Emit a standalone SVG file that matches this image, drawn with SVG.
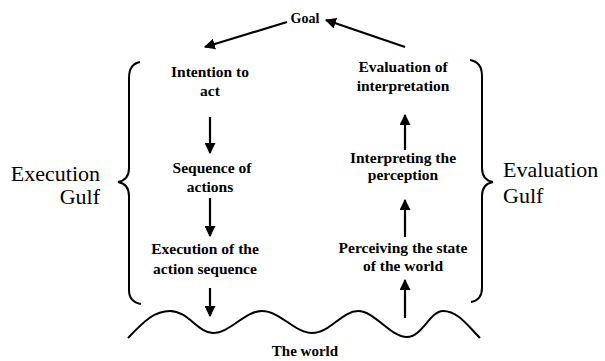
<svg xmlns="http://www.w3.org/2000/svg" width="605" height="361" viewBox="0 0 605 361">
<style>
.n{font-family:"Liberation Serif","DejaVu Serif",serif;font-weight:bold;font-size:15.5px;fill:#000;text-anchor:middle}
.g{font-family:"Liberation Serif","DejaVu Serif",serif;font-size:22px;fill:#000}
.c{stroke:#000;stroke-width:2.2;fill:none}
.b{stroke:#000;stroke-width:2;fill:none}
</style>
<defs>
<marker id="ah" viewBox="0 0 10 10" refX="9" refY="5" markerWidth="5" markerHeight="5" orient="auto" markerUnits="strokeWidth">
<path d="M0,0 L10,5 L0,10 z" fill="#000"/>
</marker>
</defs>
<rect width="605" height="361" fill="#fff"/>
<g id="goal"><text class="n" x="305" y="23" style="font-size:14px">Goal</text></g>
<g id="intention"><text class="n" x="210" y="77">Intention to</text><text class="n" x="210" y="96">act</text></g>
<g id="sequence"><text class="n" x="212" y="173">Sequence of</text><text class="n" x="210" y="192">actions</text></g>
<g id="execution"><text class="n" x="205" y="254">Execution of the</text><text class="n" x="205" y="274">action sequence</text></g>
<g id="evaluation"><text class="n" x="403" y="72">Evaluation of</text><text class="n" x="403" y="91">interpretation</text></g>
<g id="interpreting"><text class="n" x="403" y="163">Interpreting the</text><text class="n" x="403" y="180">perception</text></g>
<g id="perceiving"><text class="n" x="403" y="253">Perceiving the state</text><text class="n" x="403" y="271">of the world</text></g>
<g id="execution-gulf"><text class="g" x="100" y="181" text-anchor="end">Execution</text><text class="g" x="100" y="204" text-anchor="end">Gulf</text></g>
<g id="evaluation-gulf"><text class="g" x="503" y="177">Evaluation</text><text class="g" x="503" y="203">Gulf</text></g>
<g id="world"><path class="b" d="M128,338 C145,320 155,311 170,311 C188,311 198,333 213,333 C230,333 245,311 262,311 C280,311 295,333 312,333 C330,333 342,311 358,311 C375,311 390,337 407,337 C422,337 430,311 443,311 C458,311 468,326 480,338"/><text class="n" x="305" y="356" style="font-size:15px">The world</text></g>
<g id="braces">
<path class="b" d="M140,62 Q129,64 129,78 L129,168 Q129,180 118,182 Q129,184 129,196 L129,290 Q129,302 141,304"/>
<path class="b" d="M470,60 Q482,62 482,76 L482,168 Q482,180 493,182 Q482,184 482,196 L482,288 Q482,300 471,302"/>
</g>
<g id="connectors">
<line class="c" x1="287" y1="22" x2="205" y2="47" marker-end="url(#ah)"/>
<line class="c" x1="405" y1="47" x2="326" y2="20" marker-end="url(#ah)"/>
<line class="c" x1="210" y1="117" x2="210" y2="153" marker-end="url(#ah)"/>
<line class="c" x1="210" y1="198" x2="210" y2="236" marker-end="url(#ah)"/>
<line class="c" x1="210" y1="288" x2="210" y2="316" marker-end="url(#ah)"/>
<line class="c" x1="405" y1="318" x2="405" y2="280" marker-end="url(#ah)"/>
<line class="c" x1="405" y1="237" x2="405" y2="200" marker-end="url(#ah)"/>
<line class="c" x1="405" y1="150" x2="405" y2="115" marker-end="url(#ah)"/>
</g>
</svg>
